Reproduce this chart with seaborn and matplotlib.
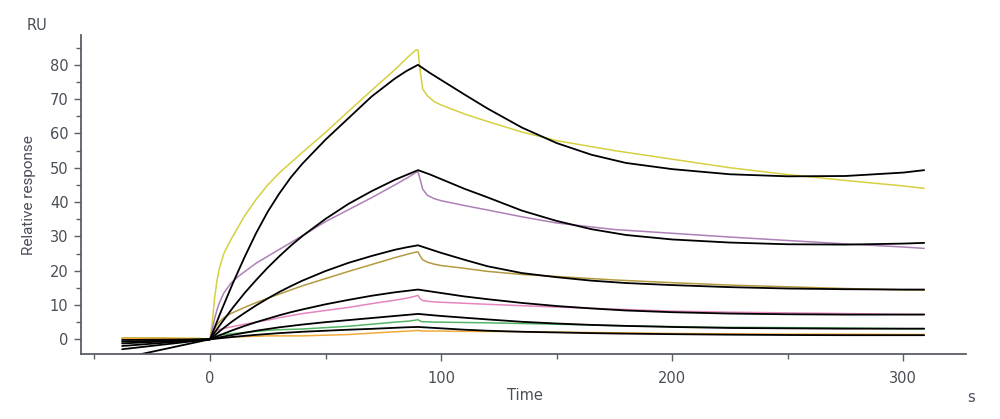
import matplotlib
matplotlib.use("Agg")
import matplotlib.pyplot as plt
import seaborn as sns
import numpy as np
import pandas as pd
from matplotlib.ticker import MultipleLocator

# ---------------- data ----------------
# sensorgram time grid (s)
t_sensor = [-38, -20, -5, 0, 1, 2, 3, 4, 6, 9, 12, 15, 20, 25, 30, 40, 50, 60, 70, 80, 86, 89, 90,
            91, 92, 94, 97, 100, 110, 120, 135, 150, 175, 200, 225, 250, 275, 300, 309]

yellow = [0.4, 0.4, 0.3, 0.0, 5.0, 12.0, 17.0, 20.5, 25.0, 29.0, 32.5, 36.0, 40.8, 45.0, 48.5, 54.5, 60.3, 66.5, 72.6, 78.6, 82.5, 84.3, 84.3,
          78.0, 73.0, 71.0, 69.3, 68.3, 65.7, 63.5, 60.4, 57.9, 55.0, 52.5, 50.0, 48.0, 46.3, 44.7, 44.0]
purple = [0.2, 0.2, 0.1, 0.0, 3.0, 6.0, 8.5, 10.5, 13.5, 16.3, 18.2, 19.7, 22.2, 24.2, 26.2, 30.2, 34.3, 37.8, 41.3, 45.0, 47.3, 48.6, 48.8,
          46.5, 43.8, 42.0, 41.0, 40.4, 39.0, 37.7, 35.7, 33.9, 32.0, 30.9, 29.8, 28.8, 27.8, 26.9, 26.5]
olive = [0.3, 0.2, 0.1, 0.0, 1.5, 3.0, 4.2, 5.0, 6.3, 7.5, 8.4, 9.3, 10.7, 12.0, 13.2, 15.6, 17.7, 19.8, 21.8, 23.8, 24.9, 25.4, 25.5,
         24.2, 23.2, 22.5, 21.9, 21.5, 20.7, 19.8, 18.9, 18.3, 17.3, 16.5, 15.8, 15.3, 14.8, 14.4, 14.3]
pink = [0.1, 0.1, 0.0, 0.0, 1.0, 2.0, 2.5, 2.8, 3.2, 3.6, 4.0, 4.4, 5.0, 5.6, 6.3, 7.5, 8.4, 9.3, 10.4, 11.4, 12.1, 12.6, 12.8,
        11.8, 11.3, 11.1, 10.9, 10.8, 10.5, 10.2, 9.8, 9.4, 8.8, 8.2, 7.9, 7.7, 7.5, 7.3, 7.3]
green = [0.1, 0.1, 0.0, 0.0, 0.5, 0.9, 1.1, 1.2, 1.4, 1.6, 1.8, 2.0, 2.3, 2.6, 2.8, 3.0, 3.4, 3.8, 4.4, 5.0, 5.3, 5.6, 5.7,
         5.3, 5.1, 5.1, 5.0, 5.0, 4.9, 4.8, 4.6, 4.4, 4.0, 3.7, 3.5, 3.4, 3.3, 3.1, 3.1]
orange = [0.2, 0.2, 0.1, 0.0, 0.2, 0.3, 0.35, 0.4, 0.5, 0.6, 0.7, 0.8, 0.9, 1.0, 1.0, 1.0, 1.2, 1.4, 1.8, 2.2, 2.4, 2.55, 2.6,
          2.5, 2.4, 2.4, 2.4, 2.4, 2.3, 2.3, 2.2, 2.1, 1.9, 1.7, 1.6, 1.5, 1.5, 1.4, 1.4]

# fitted curves time grid (s)
t_fit = [-38, 0, 5, 10, 15, 20, 25, 30, 35, 40, 50, 60, 70, 80, 85, 90,
         95, 100, 110, 120, 135, 150, 165, 180, 200, 225, 250, 275, 300, 309]

fit1 = [-5.5, 0.0, 8.5, 16.5, 24.0, 31.0, 37.2, 42.5, 47.2, 51.2, 58.2, 64.5, 70.8, 76.0, 78.2, 80.0,
        77.7, 75.6, 71.4, 67.3, 61.7, 57.2, 53.8, 51.4, 49.6, 48.1, 47.5, 47.6, 48.6, 49.3]
fit2 = [-2.9, 0.0, 4.8, 9.3, 13.5, 17.3, 20.9, 24.2, 27.3, 30.1, 35.1, 39.5, 43.2, 46.5, 47.9, 49.3,
        48.1, 46.7, 43.9, 41.4, 37.5, 34.5, 32.1, 30.4, 29.1, 28.2, 27.7, 27.6, 27.9, 28.1]
fit3 = [-1.95, 0.0, 2.8, 5.4, 7.7, 9.9, 11.9, 13.8, 15.5, 17.1, 19.9, 22.3, 24.3, 26.1, 26.8, 27.4,
        26.3, 25.2, 23.2, 21.3, 19.3, 18.1, 17.1, 16.4, 15.8, 15.2, 14.8, 14.6, 14.5, 14.5]
fit4 = [-1.2, 0.0, 1.4, 2.7, 3.9, 5.0, 6.0, 7.0, 7.9, 8.7, 10.2, 11.5, 12.7, 13.7, 14.1, 14.5,
        14.0, 13.5, 12.5, 11.7, 10.6, 9.7, 9.0, 8.4, 7.9, 7.5, 7.3, 7.2, 7.2, 7.2]
fit5 = [-0.7, 0.0, 0.7, 1.3, 1.9, 2.5, 3.0, 3.5, 3.9, 4.3, 5.0, 5.6, 6.2, 6.8, 7.1, 7.4,
        7.1, 6.8, 6.3, 5.8, 5.1, 4.6, 4.2, 3.9, 3.6, 3.3, 3.2, 3.1, 3.1, 3.1]
fit6 = [-0.2, 0.0, 0.35, 0.7, 1.0, 1.3, 1.55, 1.8, 2.0, 2.2, 2.5, 2.8, 3.05, 3.35, 3.5, 3.6,
        3.4, 3.2, 2.8, 2.5, 2.2, 2.0, 1.8, 1.65, 1.5, 1.35, 1.25, 1.2, 1.2, 1.2]

sensor_names = ["c6", "c5", "c4", "c3", "c2", "c1"]
sensor_values = [yellow, purple, olive, pink, green, orange]
sensor_colors = ["#d6d040", "#ae80b8", "#b39a3e", "#e686c0", "#55b565", "#f2a93a"]
fit_names = ["f6", "f5", "f4", "f3", "f2", "f1"]
fit_values = [fit1, fit2, fit3, fit4, fit5, fit6]

x_ticks = [0, 100, 200, 300]

# ---------------- plot ----------------
sns.set_style("ticks")
plt.rcParams["font.family"] = ["DejaVu Sans"]

fig = plt.figure(figsize=(10, 4.19), dpi=100)
ax = fig.add_axes([0.081, 0.155, 0.885, 0.7615])

sdf = pd.concat([pd.DataFrame({"t": t_sensor, "r": v, "s": n})
                 for n, v in zip(sensor_names, sensor_values)], ignore_index=True)
fdf = pd.concat([pd.DataFrame({"t": t_fit, "r": v, "s": n})
                 for n, v in zip(fit_names, fit_values)], ignore_index=True)

sns.lineplot(data=sdf, x="t", y="r", hue="s", palette=dict(zip(sensor_names, sensor_colors)),
             estimator=None, sort=False, linewidth=1.1, legend=False, ax=ax)
sns.lineplot(data=fdf, x="t", y="r", hue="s", palette=dict(zip(fit_names, ["black"] * 6)),
             estimator=None, sort=False, linewidth=1.3, legend=False, ax=ax)
for ln in ax.get_lines():
    ln.set_solid_joinstyle("round")

ax.set_xlim(-55.8, 327.1)
ax.set_ylim(-4.3, 88.7)

axis_col = "#5a5e68"
text_col = "#4a4e58"
for side in ["top", "right"]:
    ax.spines[side].set_visible(False)
for side in ["left", "bottom"]:
    ax.spines[side].set_color(axis_col)
    ax.spines[side].set_linewidth(1.3)

ax.set_xticks(x_ticks)
ax.xaxis.set_minor_locator(MultipleLocator(50))
ax.yaxis.set_major_locator(MultipleLocator(10))
ax.yaxis.set_minor_locator(MultipleLocator(5))
ax.tick_params(axis="both", which="major", colors=axis_col, labelcolor=text_col,
               labelsize=10.5, length=5, width=1.0)
ax.tick_params(axis="both", which="minor", colors=axis_col, length=3.5, width=1.0)
ax.tick_params(axis="x", which="major", pad=7)
ax.tick_params(axis="y", which="major", pad=4)

ax.set_xlabel("")
ax.set_ylabel("")
fig.text(0.0375, 0.940, "RU", fontsize=10.5, color=text_col, ha="center", va="center")
fig.text(0.029, 0.535, "Relative response", fontsize=11, color=text_col,
         rotation=90, ha="center", va="center", family=["Roboto", "DejaVu Sans"])
fig.text(0.525, 0.055, "Time", fontsize=10.5, color=text_col, ha="center", va="center")
fig.text(0.971, 0.052, "s", fontsize=10.5, color=text_col, ha="center", va="center")

fig.savefig("out.png", dpi=100, facecolor="white")
